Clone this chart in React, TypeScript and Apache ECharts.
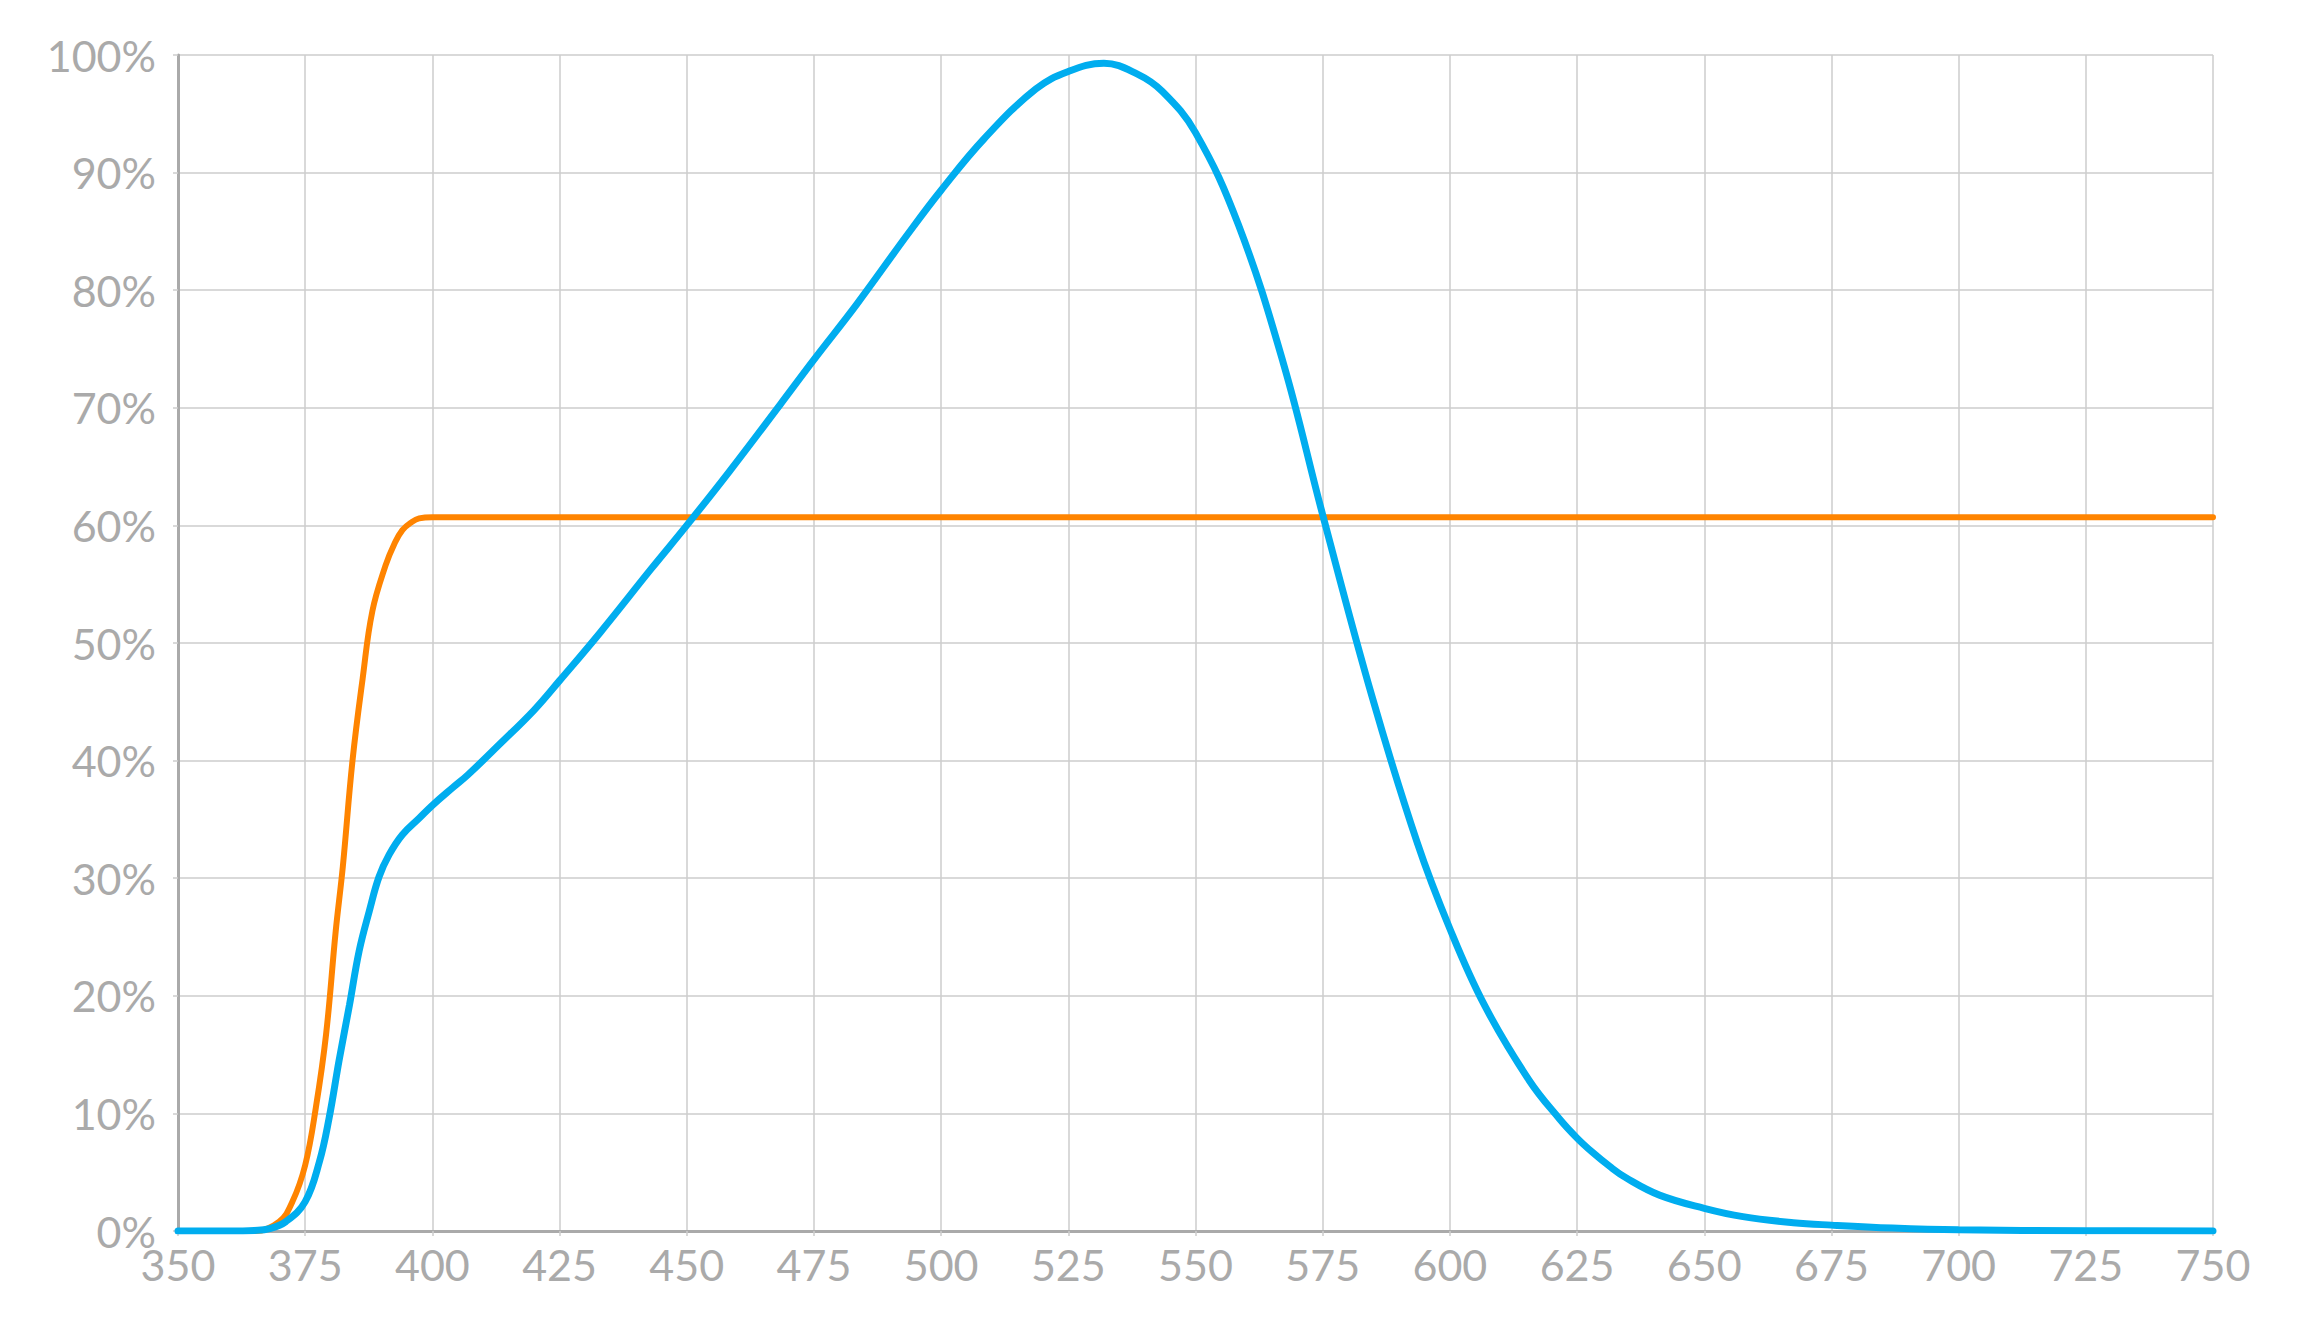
import { useEffect, useRef } from "react";
import * as echarts from "echarts";

// wavelength (nm) / transmission (%)
const blueNm = [
  350, 360, 365, 368, 371.2, 375, 377.8, 379.7, 381.7, 383.7, 385.6, 387.6,
  389.5, 391.5, 394.1, 397.4, 400, 404, 407, 413, 420, 425, 433, 443, 450,
  458.4, 468.4, 475, 483.4, 493.5, 500, 508.5, 518.6, 525, 532, 538.5, 543.5,
  550, 558.4, 567.2, 575, 584.8, 593.6, 600, 606.8, 615.6, 621.6, 625, 628,
  631.4, 634.7, 641.2, 650, 657.6, 667.5, 675, 687, 700, 725, 750,
];
const blueValues = [
  0, 0, 0.05, 0.2, 0.8, 2.5, 5.9, 9.6, 14.6, 19.2, 23.8, 27.2, 30.1, 32, 33.7,
  35.1, 36.2, 37.7, 38.8, 41.3, 44.3, 46.8, 50.9, 56.3, 60, 64.6, 70.3, 74.1,
  78.8, 84.8, 88.5, 92.9, 97.1, 98.6, 99.3, 98.4, 96.9, 93.4, 85.6, 73.9, 60.9,
  45.3, 33, 25.7, 19.2, 12.8, 9.5, 7.9, 6.7, 5.5, 4.5, 3.05, 1.93, 1.22, 0.71,
  0.5, 0.25, 0.1, 0.03, 0,
];

const orangeNm = [
  350, 365, 369.9, 372.5, 375, 377.1, 379.1, 381, 382.4, 384.3, 386.3, 388.2,
  390.8, 392.5, 394.1, 396, 397.4, 400, 750,
];
const orangeValues = [
  0, 0, 0.8, 2.5, 5.6, 10.5, 16.7, 25.5, 31, 40, 47, 52.7, 56.6, 58.4, 59.6,
  60.3, 60.6, 60.7, 60.7,
];

const FONT = "Lato";
const LABEL = "#aaaaaa";
const GRID = "#cccccc";
const AXIS = "#aaaaaa";

export default function App() {
  const ref = useRef<HTMLDivElement | null>(null);

  useEffect(() => {
    if (!ref.current) return;
    const chart = echarts.init(ref.current, undefined, { renderer: "svg" });

    chart.setOption({
      animation: false,
      backgroundColor: "#ffffff",
      grid: { left: 178, right: 86, top: 55, bottom: 93 },
      xAxis: {
        type: "value",
        min: 350,
        max: 750,
        interval: 25,
        axisLine: { show: true, lineStyle: { color: AXIS, width: 3 } },
        axisTick: { show: true, length: 5, lineStyle: { color: GRID, width: 1.5 } },
        axisLabel: {
          color: LABEL,
          fontFamily: FONT,
          fontSize: 43,
          margin: 12,
        },
        splitLine: { show: true, lineStyle: { color: GRID, width: 1.5 } },
      },
      yAxis: {
        type: "value",
        min: 0,
        max: 100,
        interval: 10,
        axisLine: { show: true, lineStyle: { color: AXIS, width: 3 } },
        axisTick: { show: true, length: 5, lineStyle: { color: GRID, width: 1.5 } },
        axisLabel: {
          color: LABEL,
          fontFamily: FONT,
          fontSize: 43,
          margin: 22,
          formatter: "{value}%",
        },
        splitLine: { show: true, lineStyle: { color: GRID, width: 1.5 } },
      },
      series: [
        {
          name: "orange",
          type: "line",
          data: orangeNm.map((x, i) => [x, orangeValues[i]]),
          smooth: 0.4,
          showSymbol: false,
          lineStyle: { color: "#ff8400", width: 6, cap: "round" },
          z: 2,
        },
        {
          name: "blue",
          type: "line",
          data: blueNm.map((x, i) => [x, blueValues[i]]),
          smooth: 0.4,
          showSymbol: false,
          lineStyle: { color: "#00adef", width: 7, cap: "round" },
          z: 3,
        },
      ],
    });

    return () => chart.dispose();
  }, []);

  return (
    <div
      ref={ref}
      style={{ position: "fixed", left: 0, top: 0, width: 2299, height: 1324 }}
    />
  );
}
